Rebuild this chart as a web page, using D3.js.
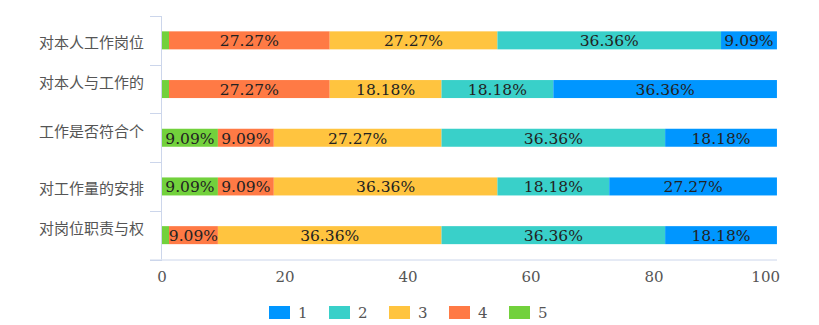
<!DOCTYPE html>
<html>
<head>
<meta charset="utf-8">
<script src="https://cdn.jsdelivr.net/npm/d3@7"></script>
<style>
  html, body { margin: 0; padding: 0; background: #fff; }
  svg { display: block; }
  .num { font-family: "DejaVu Serif", "Liberation Serif", serif; }
  .cat { font-family: "Noto Sans CJK SC", "Noto Sans", sans-serif; }
</style>
</head>
<body>
<svg id="chart" width="819" height="325"></svg>
<script>
// Survey items (rows, top to bottom)
const categories = ["对本人工作岗位", "对本人与工作的", "工作是否符合个", "对工作量的安排", "对岗位职责与权"];
// Number of lines each item name occupies in the label column (only the first line is shown)
const labelLines = [1, 2, 2, 1, 2];

// Rating series, in legend order
const seriesNames = ["1", "2", "3", "4", "5"];
// Percentage of answers per rating, one value per survey item
const rating1 = [9.09, 36.36, 18.18, 27.27, 18.18];
const rating2 = [36.36, 18.18, 36.36, 18.18, 36.36];
const rating3 = [27.27, 18.18, 27.27, 36.36, 36.36];
const rating4 = [27.27, 27.27, 9.09, 9.09, 9.09];
const rating5 = [0, 0, 9.09, 9.09, 0];

const xTicks = [0, 20, 40, 60, 80, 100];

const seriesValues = { "1": rating1, "2": rating2, "3": rating3, "4": rating4, "5": rating5 };
const colors = { "1": "#0096ff", "2": "#39d0c9", "3": "#ffc43f", "4": "#ff7a45", "5": "#72d13c" };
// Stacking goes from rating 5 on the left to rating 1 on the right
const stackOrder = ["5", "4", "3", "2", "1"];

const svg = d3.select("#chart");
const axisColor = "#ccd6eb";
const barThickness = 18;
const minBarWidth = 7;

const x = d3.scaleLinear().domain([0, 100]).range([162, 777]);
const y = d3.scaleBand().domain(categories).range([16, 259.5]).padding(0);

// Bars and value labels
const barsG = svg.append("g");
const labelsG = svg.append("g");
categories.forEach((cat, i) => {
  const yc = y(cat) + y.bandwidth() / 2;
  let cum = 0;
  let drawnEnd = x(0);
  stackOrder.forEach(key => {
    const v = seriesValues[key][i];
    const start = Math.max(x(cum), drawnEnd);
    let end = x(cum + v);
    if (v === 0) end = start + minBarWidth;
    barsG.append("rect")
      .attr("x", start)
      .attr("y", yc - barThickness / 2)
      .attr("width", Math.max(0, end - start))
      .attr("height", barThickness)
      .attr("fill", colors[key]);
    if (v > 0) {
      labelsG.append("text")
        .attr("class", "num")
        .attr("x", (start + end) / 2)
        .attr("y", yc + 1)
        .attr("text-anchor", "middle")
        .attr("dominant-baseline", "central")
        .attr("font-size", 15.5)
        .attr("fill", "#222")
        .text(v.toFixed(2) + "%");
    }
    cum += v;
    drawnEnd = end;
  });
});

// Category axis: vertical line with ticks at band boundaries
const axisG = svg.append("g");
axisG.append("line")
  .attr("x1", x(0) - 0.5).attr("x2", x(0) - 0.5)
  .attr("y1", y.range()[0]).attr("y2", y.range()[1])
  .attr("stroke", axisColor).attr("stroke-width", 1);
const bounds = categories.map(c => y(c)).concat([y.range()[1]]);
bounds.forEach(b => {
  axisG.append("line")
    .attr("x1", x(0) - 12).attr("x2", x(0))
    .attr("y1", Math.round(b) + 0.5).attr("y2", Math.round(b) + 0.5)
    .attr("stroke", axisColor).attr("stroke-width", 1);
});

// Category labels
categories.forEach((cat, i) => {
  const yc = y(cat) + y.bandwidth() / 2;
  axisG.append("text")
    .attr("class", "cat")
    .attr("x", x(0) - 18)
    .attr("y", yc + 1.5 - (labelLines[i] - 1) * 9)
    .attr("text-anchor", "end")
    .attr("dominant-baseline", "central")
    .attr("font-size", 15)
    .attr("fill", "#555")
    .text(cat);
});

// Value axis: horizontal line and tick labels
axisG.append("line")
  .attr("x1", x(0) - 12).attr("x2", x(100))
  .attr("y1", y.range()[1] + 0.5).attr("y2", y.range()[1] + 0.5)
  .attr("stroke", axisColor).attr("stroke-width", 1);
xTicks.forEach((t, i) => {
  const last = i === xTicks.length - 1;
  axisG.append("text")
    .attr("class", "num")
    .attr("x", last ? x(t) + 3 : x(t))
    .attr("y", 276.5)
    .attr("text-anchor", last ? "end" : "middle")
    .attr("dominant-baseline", "central")
    .attr("font-size", 15)
    .attr("fill", "#555")
    .text(t);
});

// Legend
const legendG = svg.append("g");
seriesNames.forEach((name, i) => {
  const lx = 269 + i * 60;
  legendG.append("rect")
    .attr("x", lx).attr("y", 306)
    .attr("width", 21).attr("height", 13)
    .attr("fill", colors[name]);
  legendG.append("text")
    .attr("class", "num")
    .attr("x", lx + 29).attr("y", 313)
    .attr("dominant-baseline", "central")
    .attr("font-size", 15)
    .attr("fill", "#555")
    .text(name);
});
</script>
</body>
</html>
